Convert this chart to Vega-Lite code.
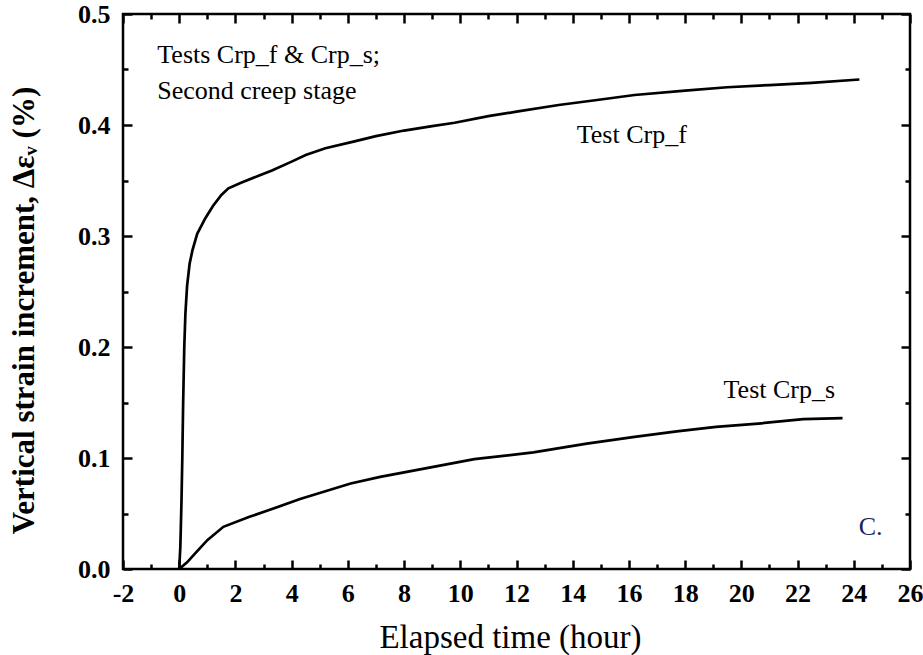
{
  "$schema": "https://vega.github.io/schema/vega-lite/v6.json",
  "width": 787,
  "height": 555,
  "autosize": "none",
  "padding": {"left": 123, "top": 14, "right": 13, "bottom": 86},
  "background": "white",
  "config": {
    "view": {"stroke": "black", "strokeWidth": 2.5, "fill": null},
    "font": "Liberation Serif",
    "axis": {
      "domain": false,
      "tickColor": "black",
      "tickWidth": 2.5,
      "grid": false,
      "zindex": 2,
      "labelColor": "black",
      "titleColor": "black",
      "labelFont": "Liberation Serif",
      "titleFont": "Liberation Serif"
    }
  },
  "datasets": {
    "curves": [
      {"test": "Crp_f", "t": 0, "v": 0},
      {"test": "Crp_f", "t": 0.04, "v": 0.02},
      {"test": "Crp_f", "t": 0.08, "v": 0.06},
      {"test": "Crp_f", "t": 0.11, "v": 0.1},
      {"test": "Crp_f", "t": 0.14, "v": 0.15},
      {"test": "Crp_f", "t": 0.18, "v": 0.2},
      {"test": "Crp_f", "t": 0.22, "v": 0.23},
      {"test": "Crp_f", "t": 0.28, "v": 0.255},
      {"test": "Crp_f", "t": 0.37, "v": 0.275},
      {"test": "Crp_f", "t": 0.47, "v": 0.287},
      {"test": "Crp_f", "t": 0.64, "v": 0.302},
      {"test": "Crp_f", "t": 0.93, "v": 0.316},
      {"test": "Crp_f", "t": 1.2, "v": 0.327},
      {"test": "Crp_f", "t": 1.5, "v": 0.337},
      {"test": "Crp_f", "t": 1.75, "v": 0.343},
      {"test": "Crp_f", "t": 2.2, "v": 0.348},
      {"test": "Crp_f", "t": 2.8, "v": 0.354},
      {"test": "Crp_f", "t": 3.3, "v": 0.359},
      {"test": "Crp_f", "t": 4.0, "v": 0.367},
      {"test": "Crp_f", "t": 4.5, "v": 0.373},
      {"test": "Crp_f", "t": 5.2, "v": 0.379},
      {"test": "Crp_f", "t": 6.2, "v": 0.385},
      {"test": "Crp_f", "t": 7.0, "v": 0.39},
      {"test": "Crp_f", "t": 8.0, "v": 0.395},
      {"test": "Crp_f", "t": 9.0, "v": 0.399},
      {"test": "Crp_f", "t": 9.8, "v": 0.402},
      {"test": "Crp_f", "t": 11.0, "v": 0.408},
      {"test": "Crp_f", "t": 12.0, "v": 0.412},
      {"test": "Crp_f", "t": 13.5, "v": 0.418},
      {"test": "Crp_f", "t": 15.0, "v": 0.423},
      {"test": "Crp_f", "t": 16.2, "v": 0.427},
      {"test": "Crp_f", "t": 18.0, "v": 0.431},
      {"test": "Crp_f", "t": 19.5, "v": 0.434},
      {"test": "Crp_f", "t": 21.0, "v": 0.436},
      {"test": "Crp_f", "t": 22.5, "v": 0.438},
      {"test": "Crp_f", "t": 24.2, "v": 0.441},
      {"test": "Crp_s", "t": 0, "v": 0},
      {"test": "Crp_s", "t": 0.28, "v": 0.006},
      {"test": "Crp_s", "t": 0.6, "v": 0.015},
      {"test": "Crp_s", "t": 1.0, "v": 0.026},
      {"test": "Crp_s", "t": 1.57, "v": 0.038},
      {"test": "Crp_s", "t": 2.5, "v": 0.047},
      {"test": "Crp_s", "t": 3.3, "v": 0.054},
      {"test": "Crp_s", "t": 4.3, "v": 0.063},
      {"test": "Crp_s", "t": 5.2, "v": 0.07},
      {"test": "Crp_s", "t": 6.1, "v": 0.077},
      {"test": "Crp_s", "t": 7.15, "v": 0.083},
      {"test": "Crp_s", "t": 9.04, "v": 0.092},
      {"test": "Crp_s", "t": 10.5, "v": 0.099},
      {"test": "Crp_s", "t": 12.6, "v": 0.105},
      {"test": "Crp_s", "t": 14.5, "v": 0.113},
      {"test": "Crp_s", "t": 16.2, "v": 0.119},
      {"test": "Crp_s", "t": 17.7, "v": 0.124},
      {"test": "Crp_s", "t": 19.1, "v": 0.128},
      {"test": "Crp_s", "t": 20.6, "v": 0.131},
      {"test": "Crp_s", "t": 22.2, "v": 0.135},
      {"test": "Crp_s", "t": 23.6, "v": 0.136}
    ],
    "notes": [
      {"t": -0.78, "v": 0.456, "label": "Tests Crp_f & Crp_s;"},
      {"t": -0.78, "v": 0.423, "label": "Second creep stage"}
    ],
    "curveLabels": [
      {"t": 16.1, "v": 0.384, "label": "Test Crp_f"},
      {"t": 21.35, "v": 0.154, "label": "Test Crp_s"}
    ],
    "panel": [
      {"t": 24.6, "v": 0.031, "label": "C."}
    ]
  },
  "layer": [
    {
      "data": {"name": "curves"},
      "mark": {"type": "line", "color": "black", "strokeWidth": 2.7},
      "encoding": {
        "x": {
          "field": "t", "type": "quantitative",
          "scale": {"domain": [-2, 26], "nice": false, "zero": false},
          "axis": {
            "orient": "bottom",
            "offset": -9,
            "values": [-2,-1,0,1,2,3,4,5,6,7,8,9,10,11,12,13,14,15,16,17,18,19,20,21,22,23,24,25,26],
            "tickSize": 9,
            "tickDash": {"condition": {"test": "abs(datum.value) % 2 == 1", "value": [0, 4, 5]}, "value": [10, 0]},
            "labelExpr": "abs(datum.value) % 2 == 1 ? '' : (datum.value < 0 ? '-' + abs(datum.value) : datum.label)",
            "labelFontSize": 26,
            "labelFontWeight": "bold",
            "labelPadding": 11,
            "labelFlush": false,
            "labelOverlap": false,
            "title": "Elapsed time (hour)",
            "titleFontSize": 33,
            "titleFontWeight": "normal",
            "titleX": 387,
            "titleY": 87,
            "titleBaseline": "alphabetic"
          }
        },
        "y": {
          "field": "v", "type": "quantitative",
          "scale": {"domain": [0, 0.5], "nice": false, "zero": false},
          "axis": {
            "orient": "left",
            "offset": -9,
            "values": [0,0.05,0.1,0.15,0.2,0.25,0.3,0.35,0.4,0.45,0.5],
            "tickSize": 9,
            "tickDash": {"condition": {"test": "round(datum.value*20) % 2 == 1", "value": [0, 4, 5]}, "value": [10, 0]},
            "labelExpr": "round(datum.value*20) % 2 == 1 ? '' : format(datum.value, '.1f')",
            "labelFontSize": 26,
            "labelFontWeight": "bold",
            "labelPadding": 13,
            "labelFlush": false,
            "labelOverlap": false,
            "title": "Vertical strain increment, Δεᵥ (%)",
            "titleFontSize": 31,
            "titleFontWeight": "bold",
            "titleX": -99,
            "titleY": 296,
            "titleBaseline": "alphabetic"
          }
        },
        "detail": {"field": "test"}
      }
    },
    {
      "data": {"name": "notes"},
      "mark": {"type": "text", "align": "left", "baseline": "alphabetic", "fontSize": 26, "font": "Liberation Serif", "color": "black"},
      "encoding": {
        "x": {
          "field": "t", "type": "quantitative",
          "scale": {"domain": [-2, 26], "nice": false, "zero": false},
          "axis": {
            "orient": "top",
            "offset": -9,
            "values": [-2,-1,0,1,2,3,4,5,6,7,8,9,10,11,12,13,14,15,16,17,18,19,20,21,22,23,24,25,26],
            "tickSize": 9,
            "tickDash": {"condition": {"test": "abs(datum.value) % 2 == 1", "value": [0, 4, 5]}, "value": [10, 0]},
            "labels": false,
            "title": null
          }
        },
        "y": {
          "field": "v", "type": "quantitative",
          "scale": {"domain": [0, 0.5], "nice": false, "zero": false},
          "axis": {
            "orient": "right",
            "offset": -9,
            "values": [0,0.05,0.1,0.15,0.2,0.25,0.3,0.35,0.4,0.45,0.5],
            "tickSize": 9,
            "tickDash": {"condition": {"test": "round(datum.value*20) % 2 == 1", "value": [0, 4, 5]}, "value": [10, 0]},
            "labels": false,
            "title": null
          }
        },
        "text": {"field": "label"}
      }
    },
    {
      "data": {"name": "curveLabels"},
      "mark": {"type": "text", "align": "center", "baseline": "alphabetic", "fontSize": 26, "font": "Liberation Serif", "color": "black"},
      "encoding": {
        "x": {"field": "t", "type": "quantitative", "axis": null},
        "y": {"field": "v", "type": "quantitative", "axis": null},
        "text": {"field": "label"}
      }
    },
    {
      "data": {"name": "panel"},
      "mark": {"type": "text", "align": "center", "baseline": "alphabetic", "fontSize": 26, "font": "Liberation Serif", "color": "#1c2456"},
      "encoding": {
        "x": {"field": "t", "type": "quantitative", "axis": null},
        "y": {"field": "v", "type": "quantitative", "axis": null},
        "text": {"field": "label"}
      }
    }
  ],
  "resolve": {"axis": {"x": "independent", "y": "independent"}}
}
